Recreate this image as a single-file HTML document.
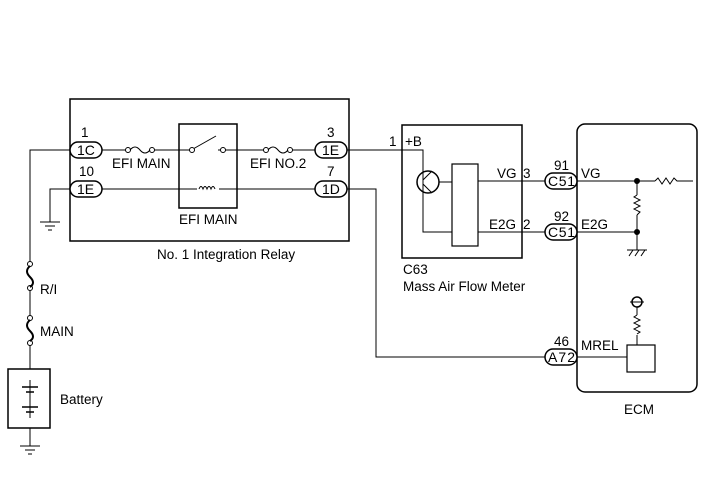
<!DOCTYPE html>
<html><head><style>body{margin:0;background:#fff}svg{display:block}text{font-family:"Liberation Sans",sans-serif;font-size:13.5px;fill:#000}.c{font-size:14px}</style></head><body>
<svg width="713" height="481" viewBox="0 0 713 481" xmlns="http://www.w3.org/2000/svg">
<g fill="none" stroke="#000" stroke-width="1">
<rect x="70" y="99" width="279" height="142" stroke-width="1.5"/>
<rect x="179" y="124" width="58" height="84" stroke-width="1.5"/>
<rect x="402" y="125" width="120" height="133" stroke-width="1.5"/>
<rect x="452" y="164" width="26" height="82" stroke-width="1.2"/>
<rect x="577" y="124" width="120" height="268" rx="8" stroke-width="1.5"/>
<rect x="627" y="345" width="28" height="27" stroke-width="1.2"/>
<rect x="8" y="369" width="42" height="59" stroke-width="1.5"/>
<path d="M70 150H30V263M30 288V318M30 343V369M30 380V418M30 428V446"/>
<path d="M70 189H50V222"/>
<path d="M102 150H126M153 150H190M218 150H264M291 150H315"/>
<path d="M102 189H197M219 189H315"/>
<path d="M347 150H423V182M423 182V232H452M439 182H452"/>
<path d="M347 189H376V357H545"/>
<path d="M478 181H545M577 181H655M478 232H545M577 232H637V250"/>
<path d="M685 181H693M637 181V195M637 215V232"/>
<path d="M577 357H627M637 345V335M637 315V307"/>
<path d="M193 149L216 136"/>
<circle cx="192" cy="150" r="2.5" fill="#fff"/><circle cx="223" cy="150" r="2.5" fill="#fff"/>
<path d="M199 189q2-5 4 0q2-5 4 0q2-5 4 0q2-5 4 0"/>
<circle cx="128" cy="150" r="2.5" fill="#fff"/><circle cx="152" cy="150" r="2.5" fill="#fff"/><path d="M130 150q5-6 10 0t10 0"/>
<circle cx="266" cy="150" r="2.5" fill="#fff"/><circle cx="290" cy="150" r="2.5" fill="#fff"/><path d="M268 150q5-6 10 0t10 0"/>
<circle cx="30" cy="264" r="2.5" fill="#fff"/><circle cx="30" cy="288" r="2.5" fill="#fff"/><path d="M30 266q-6 5 0 11t0 10" stroke-width="2"/>
<circle cx="30" cy="318" r="2.5" fill="#fff"/><circle cx="30" cy="343" r="2.5" fill="#fff"/><path d="M30 320q-6 5 0 11t0 10" stroke-width="2"/>
<path d="M22 387H38M26 392H34M22 407H38M26 412H34" stroke-width="1.5"/>
<path d="M40 222H60M45 226H55M48 230H52"/>
<path d="M20 446H40M25 450H35M28 454H32"/>
<path d="M627 250H647M629 256l4-6M635 256l4-6M641 256l4-6"/>
<circle cx="428" cy="182" r="11" stroke-width="1.5"/>
<path d="M423 175V189M423 180L432 171M423 184L432 193"/>
<path d="M655 181l3-3 4 6 4-6 4 6 4-6 3 3h8"/>
<path d="M637 195l-3 2 6 3-6 3 6 3-6 3 6 3-3 3"/>
<path d="M637 315l-3 2 6 3-6 3 6 3-6 3 6 3-3 2"/>
<circle cx="637" cy="302" r="5" stroke-width="1.5"/><path d="M630 302H644"/>
<circle cx="637" cy="181" r="2.5" fill="#000"/><circle cx="637" cy="232" r="2.5" fill="#000"/>
<rect x="70" y="142" width="32" height="16" rx="8" fill="#fff" stroke-width="1.5"/>
<rect x="70" y="181" width="32" height="16" rx="8" fill="#fff" stroke-width="1.5"/>
<rect x="315" y="142" width="32" height="16" rx="8" fill="#fff" stroke-width="1.5"/>
<rect x="315" y="181" width="32" height="16" rx="8" fill="#fff" stroke-width="1.5"/>
<rect x="545" y="173" width="32" height="16" rx="8" fill="#fff" stroke-width="1.5"/>
<rect x="545" y="224" width="32" height="16" rx="8" fill="#fff" stroke-width="1.5"/>
<rect x="545" y="349" width="32" height="16" rx="8" fill="#fff" stroke-width="1.5"/>
</g>
<g>
<text class="c" x="77" y="155">1C</text><text class="c" x="77" y="194">1E</text>
<text class="c" x="322" y="155">1E</text><text class="c" x="322" y="194">1D</text>
<text class="c" x="548" y="186" textLength="27">C51</text><text class="c" x="548" y="237" textLength="27">C51</text><text class="c" x="548" y="362" textLength="27">A72</text>
<text x="81" y="137">1</text><text x="79" y="176">10</text>
<text x="327" y="137">3</text><text x="327" y="176">7</text>
<text x="112" y="168">EFI MAIN</text><text x="250" y="168">EFI NO.2</text>
<text x="179" y="224">EFI MAIN</text>
<text x="157" y="259">No. 1 Integration Relay</text>
<text x="389" y="146">1</text><text x="405" y="146">+B</text>
<text x="497" y="178">VG</text><text x="523" y="178">3</text>
<text x="489" y="229">E2G</text><text x="523" y="229">2</text>
<text x="554" y="170">91</text><text x="554" y="221">92</text><text x="554" y="346">46</text>
<text x="581" y="178">VG</text><text x="581" y="229">E2G</text><text x="581" y="350">MREL</text>
<text x="403" y="274">C63</text><text x="403" y="291">Mass Air Flow Meter</text>
<text x="624" y="414">ECM</text>
<text x="40" y="294">R/I</text><text x="40" y="336">MAIN</text>
<text x="60" y="404">Battery</text>
</g>
</svg>
</body></html>
